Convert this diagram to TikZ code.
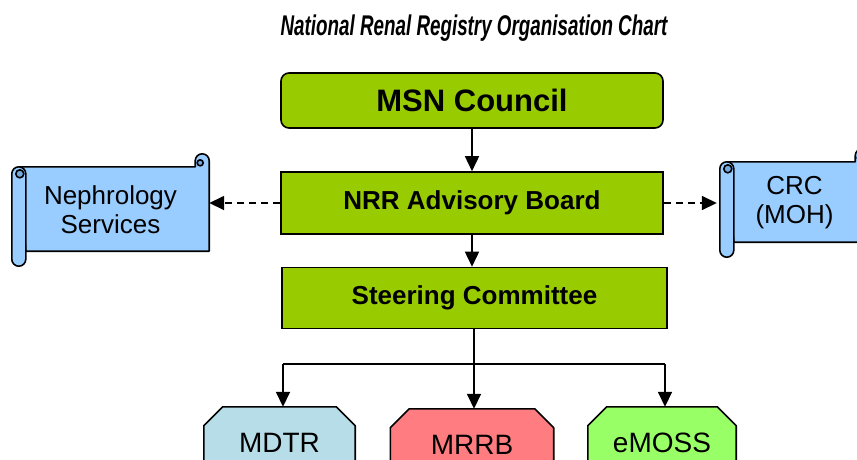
\documentclass[tikz,border=0pt]{standalone}
\usepackage{fontspec}
\setmainfont{Liberation Sans}
\usetikzlibrary{arrows.meta,
	backgrounds,
	calc}
\definecolor{boardgreen}{HTML}{99CC00}
\definecolor{scrollblue}{HTML}{99CCFF}
\definecolor{curlblue}{HTML}{74A9DE}
\definecolor{dtrteal}{HTML}{B7DEE8}
\definecolor{rrbred}{HTML}{FF7C80}
\definecolor{mossgreen}{HTML}{99FF66}

\begin{document}
\begin{tikzpicture}[x=1pt,y=-1pt]
      \tikzstyle{board}=[draw=black,fill=boardgreen,line width=1.6pt,minimum width=382pt,minimum height=62pt,font=\fontsize{26}{30}\selectfont\bfseries]
      \tikzstyle{scroll}=[inner sep=0pt,align=center,font=\fontsize{26}{29}\selectfont]
      \tikzstyle{unit}=[inner sep=0pt,minimum height=72pt,font=\fontsize{28}{30}\selectfont]
      \tikzstyle{outline}=[draw=black,line width=1.6pt,line join=round]
      \tikzstyle{link}=[line width=1.6pt,-{Triangle[width=14pt,length=15pt]}]
      \tikzstyle{sidelink}=[link,dash pattern=on 7pt off 5pt]
      \useasboundingbox (0,0) rectangle (857,459);
      \node (title) at (474,28) {\scalebox{0.66}[1]{\fontsize{28.5}{28.5}\selectfont\bfseries\itshape National Renal Registry Organisation Chart}};
      % main chain
      \node[board,rounded corners=8pt,minimum height=55pt,font=\fontsize{31}{34}\selectfont\bfseries] (msn) at (472,100.5) {MSN Council};
      \node[board] (nrr) at (472,203) {NRR Advisory Board};
      \node[board,minimum width=385pt,minimum height=61pt] (steer) at (474.5,298) {Steering Committee};
      % scrolls either side of the board
      \node[scroll,minimum width=197pt,minimum height=112pt] (neph) at (110.5,210) {Nephrology\\Services};
      \node[scroll,minimum width=149pt,minimum height=108pt] (crc) at (794.5,203) {CRC\\(MOH)};
      % working groups
      \node[unit,minimum width=151pt] (mdtr) at (279.5,443) {MDTR};
      \node[unit,minimum width=163pt] (mrrb) at (472,445) {MRRB};
      \node[unit,minimum width=148pt] (emoss) at (662,443) {eMOSS};
      \begin{pgfonlayer}{background}
        \foreach \s in {neph,crc}{
          \draw[outline,fill=scrollblue] ($(\s.north west)+(7,13)$) -- ($(\s.north east)+(-14,13)$) -- ($(\s.north east)+(-14,7)$) arc[start angle=180,end angle=360,radius=7] -- ($(\s.south east)+(0,-15)$) -- ($(\s.south west)+(14,-15)$) -- cycle;
          \draw[outline,fill=curlblue] ($(\s.north east)+(-9,9)$) circle[radius=3];
          \draw[outline,fill=scrollblue,rounded corners=7pt] ($(\s.north west)+(0,13)$) rectangle ($(\s.south west)+(14,0)$);
          \draw[outline,fill=curlblue] ($(\s.north west)+(8,20)$) circle[radius=4];
        }
        \foreach \u/\c in {mdtr/dtrteal,mrrb/rrbred,emoss/mossgreen}{
          \draw[outline,fill=\c] ($(\u.north west)+(19,0)$) -- ($(\u.north east)+(-19,0)$) -- ($(\u.north east)+(0,19)$) -- ($(\u.south east)+(0,-19)$) -- ($(\u.south east)+(-19,0)$) -- ($(\u.south west)+(19,0)$) -- ($(\u.south west)+(0,-19)$) -- ($(\u.north west)+(0,19)$) -- cycle;
        }
      \end{pgfonlayer}
      % connectors
      \draw[link] (msn) -- (nrr);
      \draw[link] (nrr.south) -- (nrr.south |- steer.north);
      \draw[sidelink] (nrr.west) -- (nrr.west -| neph.east);
      \draw[sidelink] (nrr.east) -- ($(nrr.east -| crc.west)+(-3,0)$);
      \coordinate (bus_l) at (283,364);
      \coordinate (bus_m) at (474,364);
      \coordinate (bus_r) at (665,364);
      \draw[line width=1.6pt] (bus_l) -- (bus_r);
      \draw[link] (bus_m |- steer.south) -- (bus_m |- mrrb.north);
      \draw[link] (bus_l) -- (bus_l |- mdtr.north);
      \draw[link] (bus_r) -- (bus_r |- emoss.north);
    \end{tikzpicture}
\end{document}
